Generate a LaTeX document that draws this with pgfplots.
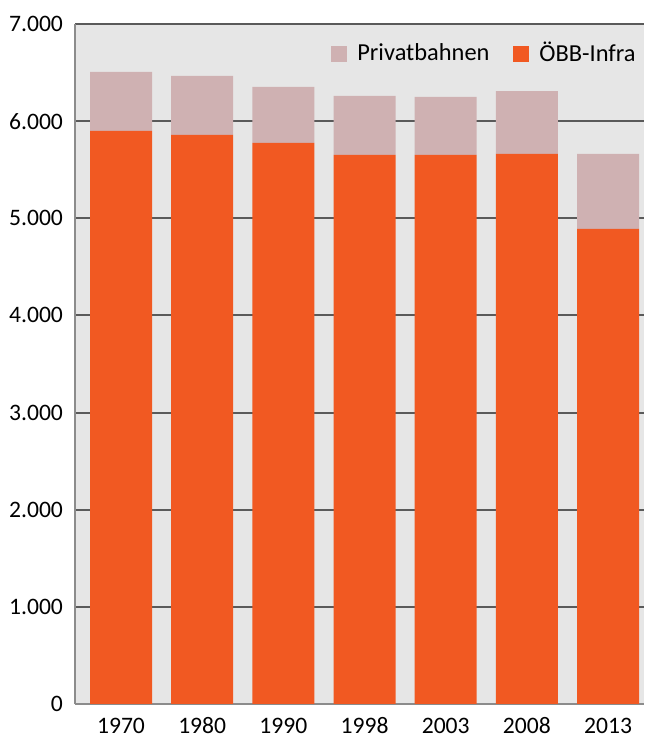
\documentclass[border=0pt]{standalone}
\usepackage{fontspec}
\setmainfont{Carlito}
\usepackage{pgfplots}
\pgfplotsset{compat=1.18}

\definecolor{oebb}{RGB}{241,89,34}
\definecolor{privat}{RGB}{207,177,178}
\definecolor{bg}{RGB}{230,230,230}
\definecolor{gridc}{RGB}{90,90,90}
\definecolor{axc}{RGB}{140,140,140}

\begin{document}
\begin{tikzpicture}
\fontsize{11.5}{13}\selectfont
\begin{axis}[
  scale only axis,
  width=284.5pt, height=340pt,
  xmin=-0.567, xmax=6.443,
  ymin=0, ymax=7000,
  ytick={0,1000,...,7000},
  xtick=data,
  xticklabels={1970,1980,1990,1998,2003,2008,2013},
  ybar stacked,
  bar width=31pt,
  axis x line*=bottom,
  axis y line*=left,
  axis line style={draw=axc, line width=0.8pt},
  ymajorgrids,
  grid style={draw=gridc, line width=1pt},
  major tick length=0pt,
  axis background/.style={fill=bg},
  yticklabel style={xshift=-2pt, font=\fontsize{11.8}{13}\selectfont},
  xticklabel style={anchor=base, yshift=-14.5pt, font=\fontsize{11.8}{13}\selectfont},
  /pgf/number format/.cd, 1000 sep={.}, assume math mode=true,
  /pgfplots/.cd,
  reverse legend,
  legend columns=2,
  legend style={at={(1,1)}, anchor=north east, draw=none, fill=none,
    xshift=1pt, yshift=-5pt,
    font=\fontsize{12.2}{13}\selectfont,
    /tikz/every odd column/.append style={column sep=3pt},
    /tikz/every even column/.append style={column sep=10pt}},
  legend image code/.code={\fill[#1] (0pt,-4pt) rectangle (8pt,4pt);},
]
\addplot[fill=oebb, draw=none] coordinates
  {(0,5899) (1,5858) (2,5775) (3,5652) (4,5652) (5,5662) (6,4890)};
\addlegendentry{ÖBB-Infra}
\addplot[fill=privat, draw=none] coordinates
  {(0,607) (1,607) (2,577) (3,607) (4,597) (5,648) (6,772)};
\addlegendentry{Privatbahnen}
\end{axis}
\pgfresetboundingbox
\path[use as bounding box] ([xshift=-37.5pt,yshift=-16pt]current axis.south west)
  rectangle ([yshift=12pt]current axis.north east);
\end{tikzpicture}
\end{document}
